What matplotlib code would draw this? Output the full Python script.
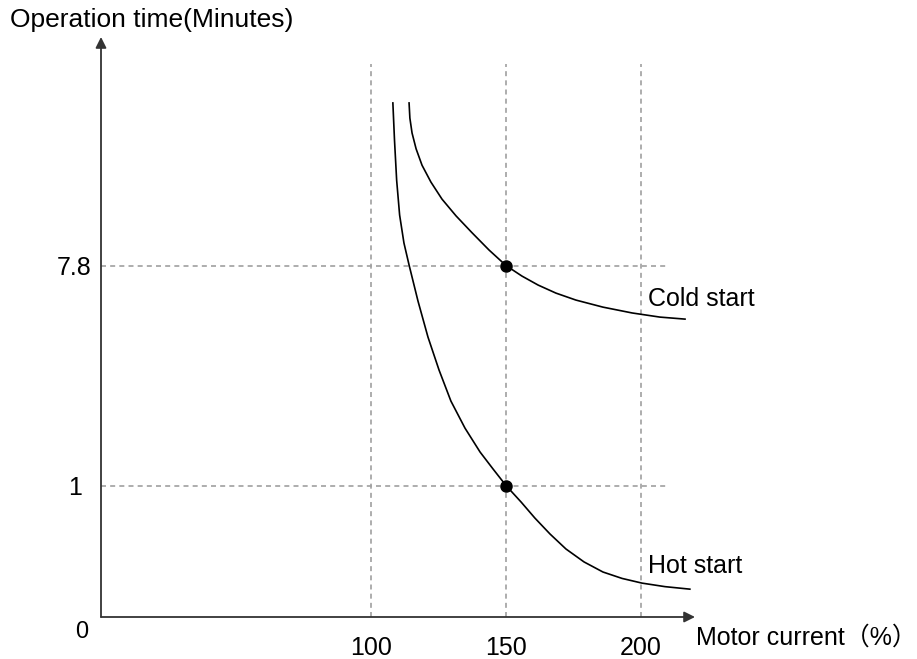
import matplotlib
matplotlib.use("Agg")
import matplotlib.pyplot as plt
from matplotlib.ticker import NullLocator

plt.rcParams['font.family'] = ['Liberation Sans', 'Noto Sans CJK SC', 'DejaVu Sans']

# curves: motor current (%) vs operation time (minutes)
hot_current = [108.1, 108.7, 109.5, 110.6, 112.2, 114.1, 117.4, 121.1, 125.2, 129.6,
               134.8, 140.4, 145.2, 150, 155.6, 160.7, 166.3, 172.2, 178.9, 185.9,
               193.0, 200.4, 208.9, 218.1]
hot_time = [35.6, 25.2, 17.3, 12.5, 9.63, 7.84, 5.60, 4.00, 2.94, 2.20,
            1.71, 1.367, 1.167, 1.0, 0.857, 0.738, 0.636, 0.553, 0.490, 0.446,
            0.420, 0.402, 0.389, 0.380]

cold_current = [114.1, 114.4, 115.2, 116.7, 118.9, 122.2, 126.3, 131.5, 137.4, 143.7,
                150, 155.9, 161.9, 168.5, 175.9, 185.9, 196.7, 207.0, 216.3]
cold_time = [35.6, 30.9, 26.9, 23.2, 19.9, 17.0, 14.5, 12.4, 10.6, 9.02,
             7.8, 7.07, 6.50, 6.03, 5.65, 5.29, 5.01, 4.82, 4.73]

marked_current = [150, 150]
marked_time = [7.8, 1]

x_ticks = [100, 150, 200]
y_ticks = [1, 7.8]
y_tick_labels = ['1', '7.8']

W, H = 917, 659
fig = plt.figure(figsize=(W / 100, H / 100), dpi=100)
ax = fig.add_axes([101 / W, 42 / H, 594 / W, 580 / H])
ax.set_yscale('log')
ax.set_xlim(0, 220)
ax.set_ylim(0.293, 65.9)

for s in ax.spines.values():
    s.set_visible(False)

# dashed guide lines
grid_kw = dict(color='#a0a0a0', lw=1.2, linestyle=(0, (3, 2.5)), zorder=1)
for xv in x_ticks:
    ax.plot([xv, xv], [0.293, 51.2], **grid_kw)
for yv in y_ticks:
    ax.plot([0, 210], [yv, yv], **grid_kw)

ax.plot(hot_current, hot_time, color='black', lw=1.2, zorder=3)
ax.plot(cold_current, cold_time, color='black', lw=1.2, zorder=3)
ax.plot(marked_current, marked_time, 'o', color='black', ms=8, zorder=4)

# axes with arrow heads
arr = dict(arrowstyle='-|>', color='#333333', lw=1.3, mutation_scale=16,
           shrinkA=0, shrinkB=0)
ax.annotate('', xy=(1, 0), xytext=(0, 0), xycoords='axes fraction',
            arrowprops=arr, annotation_clip=False)
ax.annotate('', xy=(0, 1), xytext=(0, 0), xycoords='axes fraction',
            arrowprops=arr, annotation_clip=False)

ax.set_xticks(x_ticks)
ax.set_xticklabels([str(v) for v in x_ticks])
ax.set_yticks(y_ticks)
ax.set_yticklabels(y_tick_labels)
ax.yaxis.set_minor_locator(NullLocator())
ax.tick_params(which='both', length=0, labelsize=18)
ax.tick_params(axis='x', pad=14)
ax.tick_params(axis='y', pad=19)
for lbl in ax.get_yticklabels():
    lbl.set_horizontalalignment('center')

ax.text(202.6, 5.7, 'Cold start', fontsize=18, ha='left', va='center')
ax.text(202.6, 0.47, 'Hot start', fontsize=18, ha='left', va='center')

fig.text(10 / W, 1 - 20 / H, 'Operation time(Minutes)', fontsize=19,
         ha='left', va='center')
fig.text(696 / W, 1 - 638 / H, 'Motor current（%）', fontsize=18,
         ha='left', va='center')
fig.text(82 / W, 1 - 632 / H, '0', fontsize=17, ha='center', va='center')

fig.savefig('out.png', dpi=100)
